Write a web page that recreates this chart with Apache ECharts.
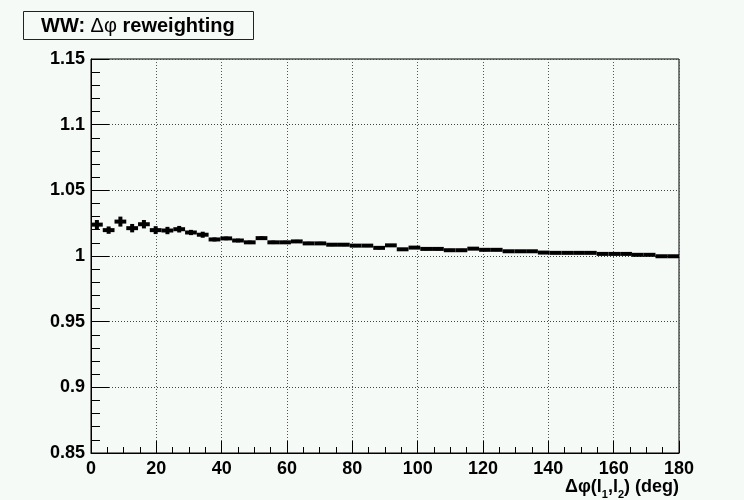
<!DOCTYPE html>
<html>
<head>
<meta charset="utf-8">
<script src="https://cdn.jsdelivr.net/npm/echarts@6/dist/echarts.min.js"></script>
<style>
  html, body { margin: 0; padding: 0; background: #f5faf7; }
  #chart { width: 744px; height: 500px; }
</style>
</head>
<body>
<div id="chart"></div>
<script>
// Histogram range and binning (50 bins over 0..180 deg)
const xMin = 0;
const xMax = 180;
const nBins = 50;

// Bin contents: WW reweighting factor vs delta-phi of the two leptons
const weights = [
  1.0239, 1.0197, 1.0262, 1.0212, 1.0242, 1.0197, 1.0194, 1.0204, 1.0179, 1.0162,
  1.0126, 1.0134, 1.0118, 1.0104, 1.0136, 1.0104, 1.0104, 1.0111, 1.0096, 1.0096,
  1.0086, 1.0086, 1.0079, 1.0079, 1.0062, 1.0081, 1.0051, 1.0064, 1.0054, 1.0054,
  1.0044, 1.0044, 1.0056, 1.0047, 1.0047, 1.0036, 1.0036, 1.0036, 1.0026, 1.0024,
  1.0024, 1.0024, 1.0024, 1.0016, 1.0016, 1.0016, 1.0009, 1.0009, 0.9998, 0.9998
];

// Statistical uncertainty of each bin
const errors = [
  0.0035, 0.0028, 0.0038, 0.0032, 0.0032, 0.0030, 0.0028, 0.0025, 0.0020, 0.0023,
  0.0015, 0.0014, 0.0014, 0.0013, 0.0013, 0.0013, 0.0012, 0.0012, 0.0012, 0.0012,
  0.0011, 0.0011, 0.0011, 0.0011, 0.0011, 0.0010, 0.0010, 0.0010, 0.0010, 0.0010,
  0.0010, 0.0010, 0.0010, 0.0010, 0.0010, 0.0009, 0.0009, 0.0009, 0.0009, 0.0009,
  0.0009, 0.0009, 0.0009, 0.0009, 0.0009, 0.0009, 0.0009, 0.0009, 0.0009, 0.0009
];

// Axis ticks
const xTicks = [0, 20, 40, 60, 80, 100, 120, 140, 160, 180];
const yTicks = [0.85, 0.9, 0.95, 1, 1.05, 1.1, 1.15];

const binWidth = (xMax - xMin) / nBins;
const histData = weights.map((w, i) => [
  xMin + i * binWidth,        // low edge
  xMin + (i + 1) * binWidth,  // high edge
  w,
  errors[i]
]);

const FONT = '"Liberation Sans", Arial, Helvetica, sans-serif';
const chart = echarts.init(document.getElementById('chart'), null, { renderer: 'canvas' });

const option = {
  backgroundColor: '#f5faf7',
  animation: false,
  title: {
    text: '{b|WW: }{g|Δφ}{b| reweighting}',
    left: 23,
    top: 11,
    padding: [5, 19, 4, 18],
    borderColor: '#222',
    borderWidth: 1,
    backgroundColor: '#f5faf7',
    textStyle: {
      rich: {
        b: { fontFamily: FONT, fontWeight: 'bold', fontSize: 20, color: '#000' },
        g: { fontFamily: FONT, fontWeight: 'normal', fontSize: 20, color: '#000' }
      }
    }
  },
  grid: {
    left: 91,
    right: 65,
    top: 59,
    bottom: 42,
    show: true,
    borderColor: '#000',
    borderWidth: 1,
    backgroundColor: 'transparent'
  },
  xAxis: {
    type: 'value',
    min: xTicks[0],
    max: xTicks[xTicks.length - 1],
    interval: xTicks[1] - xTicks[0],
    name: '{a|Δφ(l}{s|1}{a|,l}{s|2}{a|) (deg)}',
    nameLocation: 'end',
    nameGap: 0,
    nameTextStyle: {
      align: 'right',
      verticalAlign: 'top',
      padding: [21, 0, 0, 0],
      rich: {
        a: { fontFamily: FONT, fontWeight: 'bold', fontSize: 18, color: '#000', verticalAlign: 'middle' },
        s: { fontFamily: FONT, fontWeight: 'bold', fontSize: 11, color: '#000', verticalAlign: 'bottom', lineHeight: 26 }
      }
    },
    axisLine: { show: true, onZero: false, lineStyle: { color: '#000', width: 1 } },
    axisTick: { show: true, inside: true, length: 12, lineStyle: { color: '#000', width: 1 } },
    minorTick: { show: true, splitNumber: 4, length: 6, lineStyle: { color: '#000', width: 1 } },
    splitLine: { show: true, lineStyle: { color: '#555', type: [1, 2], width: 1 } },
    axisLabel: {
      margin: 7,
      fontFamily: FONT,
      fontWeight: 'bold',
      fontSize: 18,
      color: '#000'
    }
  },
  yAxis: {
    type: 'value',
    min: yTicks[0],
    max: yTicks[yTicks.length - 1],
    interval: 0.05,
    axisLine: { show: true, onZero: false, lineStyle: { color: '#000', width: 1 } },
    axisTick: { show: true, inside: true, length: 18, lineStyle: { color: '#000', width: 1 } },
    minorTick: { show: true, splitNumber: 5, length: 9, lineStyle: { color: '#000', width: 1 } },
    splitLine: { show: true, lineStyle: { color: '#444', type: [1, 2], width: 1 } },
    axisLabel: {
      margin: 6,
      fontFamily: FONT,
      fontWeight: 'bold',
      fontSize: 18,
      color: '#000',
      formatter: v => String(+v.toFixed(2))
    }
  },
  series: [{
    type: 'custom',
    clip: true,
    data: histData,
    encode: { x: [0, 1], y: 2 },
    renderItem: function (params, api) {
      const lo = api.value(0), hi = api.value(1), w = api.value(2), e = api.value(3);
      const pLo = api.coord([lo, w]);
      const pHi = api.coord([hi, w]);
      const pUp = api.coord([(lo + hi) / 2, w + e]);
      const pDn = api.coord([(lo + hi) / 2, w - e]);
      const thick = 4;
      return {
        type: 'group',
        children: [
          {
            type: 'rect',
            shape: { x: pLo[0], y: pLo[1] - thick / 2, width: pHi[0] - pLo[0], height: thick },
            style: { fill: '#000' }
          },
          {
            type: 'rect',
            shape: { x: pUp[0] - thick / 2, y: pUp[1], width: thick, height: pDn[1] - pUp[1] },
            style: { fill: '#000' }
          }
        ]
      };
    }
  }]
};

chart.setOption(option);
</script>
</body>
</html>
